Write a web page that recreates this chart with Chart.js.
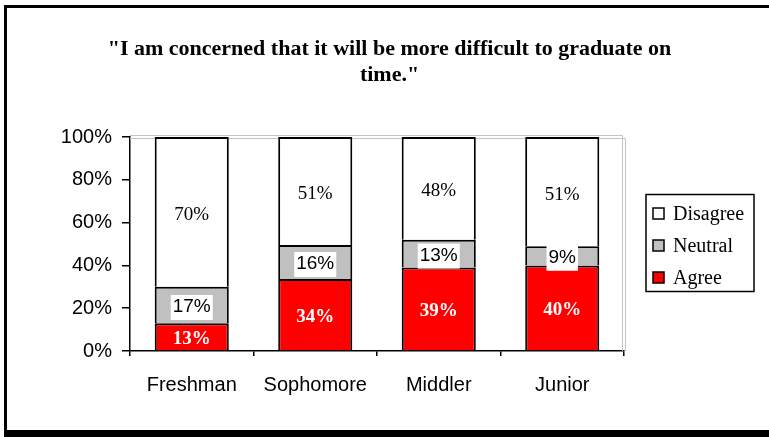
<!DOCTYPE html>
<html>
<head>
<meta charset="utf-8">
<title>Graduate on time</title>
<script src="https://cdn.jsdelivr.net/npm/chart.js@4.4.1/dist/chart.umd.min.js"></script>
<style>
  html, body { margin: 0; padding: 0; background: #fff; }
  canvas { display: block; }
</style>
</head>
<body>
<canvas id="chart" width="769" height="437"></canvas>
<script>
// survey answers per class year, in percent
const years = ['Freshman', 'Sophomore', 'Middler', 'Junior'];
const agree = [13, 34, 39, 40];
const neutral = [17, 16, 13, 9];
const disagree = [70, 51, 48, 51];
const yTicks = [0, 20, 40, 60, 80, 100];
const titleLines = ['"I am concerned that it will be more difficult to graduate on', 'time."'];

const serif = '"Liberation Serif", "Times New Roman", Times, serif';
const sans = '"Liberation Sans", Arial, Helvetica, sans-serif';

// 100% stacked: each column is scaled to its own total (Sophomore adds to 101)
const totals = years.map((_, i) => agree[i] + neutral[i] + disagree[i]);
const share = arr => arr.map((v, i) => v / totals[i] * 100);

// the old spreadsheet look: each segment gets its own label style
const labelStyles = [
    { font: 'bold 19px ' + serif, color: '#fff', box: false },
    { font: '19px ' + sans, color: '#000', box: true },
    { font: '19px ' + serif, color: '#000', box: false },
];

const segmentLabels = {
    id: 'segmentLabels',
    afterDatasetsDraw(chart) {
        const ctx = chart.ctx;
        ctx.save();
        ctx.textAlign = 'center';
        ctx.textBaseline = 'middle';
        chart.data.datasets.forEach((ds, d) => {
            const st = labelStyles[d];
            chart.getDatasetMeta(d).data.forEach((bar, i) => {
                const text = ds.raw[i] + '%';
                const cy = (bar.y + bar.base) / 2 + (d === 2 ? 3 : 2);
                ctx.font = st.font;
                if (st.box) {
                    const w = ctx.measureText(text).width + 4;
                    ctx.fillStyle = '#fff';
                    ctx.fillRect(bar.x - w / 2, cy - 12, w, 25);
                }
                ctx.fillStyle = st.color;
                ctx.fillText(text, bar.x, cy);
            });
        });
        ctx.restore();
    }
};

const decorations = {
    id: 'decorations',
    beforeDatasetsDraw(chart) {
        // plot area frame, only the top and right edges show
        const a = chart.chartArea;
        const ctx = chart.ctx;
        ctx.save();
        ctx.strokeStyle = '#c4c4c4';
        ctx.lineWidth = 1;
        [-1.5, 1.5].forEach(o => {
            ctx.beginPath();
            ctx.moveTo(a.left, a.top + o);
            ctx.lineTo(a.right + o, a.top + o);
            ctx.lineTo(a.right + o, a.bottom);
            ctx.stroke();
        });
        ctx.restore();
    },
    afterDraw(chart) {
        const ctx = chart.ctx;
        const a = chart.chartArea;
        ctx.save();

        // title is centred on the whole picture, not on the plot
        ctx.fillStyle = '#000';
        ctx.font = 'bold 22px ' + serif;
        ctx.textAlign = 'center';
        ctx.textBaseline = 'middle';
        titleLines.forEach((line, i) => ctx.fillText(line, chart.width / 2 + 5, 49 + i * 26));

        // legend, top series first
        const x0 = a.right + 22, w = 108, h = 97;
        const y0 = (a.top + a.bottom) / 2 - h / 2 - 1;
        ctx.lineWidth = 1.5;
        ctx.strokeStyle = '#000';
        ctx.strokeRect(x0, y0, w, h);
        ctx.font = '20px ' + serif;
        ctx.textAlign = 'left';
        chart.data.datasets.slice().reverse().forEach((ds, i) => {
            const cy = y0 + 19 + i * 32;
            ctx.fillStyle = ds.backgroundColor;
            ctx.fillRect(x0 + 7, cy - 5.5, 11, 11);
            ctx.strokeRect(x0 + 7, cy - 5.5, 11, 11);
            ctx.fillStyle = '#000';
            ctx.fillText(ds.label, x0 + 27, cy + 1);
        });

        // outer frame
        ctx.fillStyle = '#000';
        ctx.fillRect(4, 5, 3, 432);
        ctx.fillRect(4, 5, 765, 3);
        ctx.fillRect(4, 430, 765, 7);
        ctx.restore();
    }
};

const ctx = document.getElementById('chart').getContext('2d');
new Chart(ctx, {
    type: 'bar',
    data: {
        labels: years,
        datasets: [
            { label: 'Agree', raw: agree, data: share(agree), backgroundColor: '#ff0000' },
            { label: 'Neutral', raw: neutral, data: share(neutral), backgroundColor: '#c0c0c0' },
            { label: 'Disagree', raw: disagree, data: share(disagree), backgroundColor: '#ffffff' },
        ].map(ds => Object.assign(ds, {
            borderColor: '#000',
            borderWidth: 2,
            borderSkipped: 'start',
            categoryPercentage: 1,
            barPercentage: 0.6,
        }))
    },
    options: {
        responsive: false,
        animation: false,
        layout: { padding: { top: 137, right: 145, bottom: 0, left: 0 } },
        plugins: {
            legend: { display: false },
            tooltip: { enabled: false },
            title: { display: false },
        },
        scales: {
            x: {
                stacked: true,
                afterFit: axis => { axis.height = 86; },
                border: { color: '#000', width: 1.5 },
                grid: { drawOnChartArea: false, color: '#000', lineWidth: 1.5, tickLength: 5 },
                ticks: { color: '#000', padding: 17, font: { family: sans, size: 20 } },
            },
            y: {
                stacked: true,
                min: 0,
                max: 100,
                afterFit: axis => { axis.width = 130; },
                afterBuildTicks: axis => { axis.ticks = yTicks.map(v => ({ value: v })); },
                border: { color: '#000', width: 1.5 },
                grid: { drawOnChartArea: false, color: '#000', lineWidth: 1.5, tickLength: 8 },
                ticks: { color: '#000', padding: 10, font: { family: sans, size: 20 }, callback: v => v + '%' },
            },
        },
    },
    plugins: [decorations, segmentLabels],
});
</script>
</body>
</html>
